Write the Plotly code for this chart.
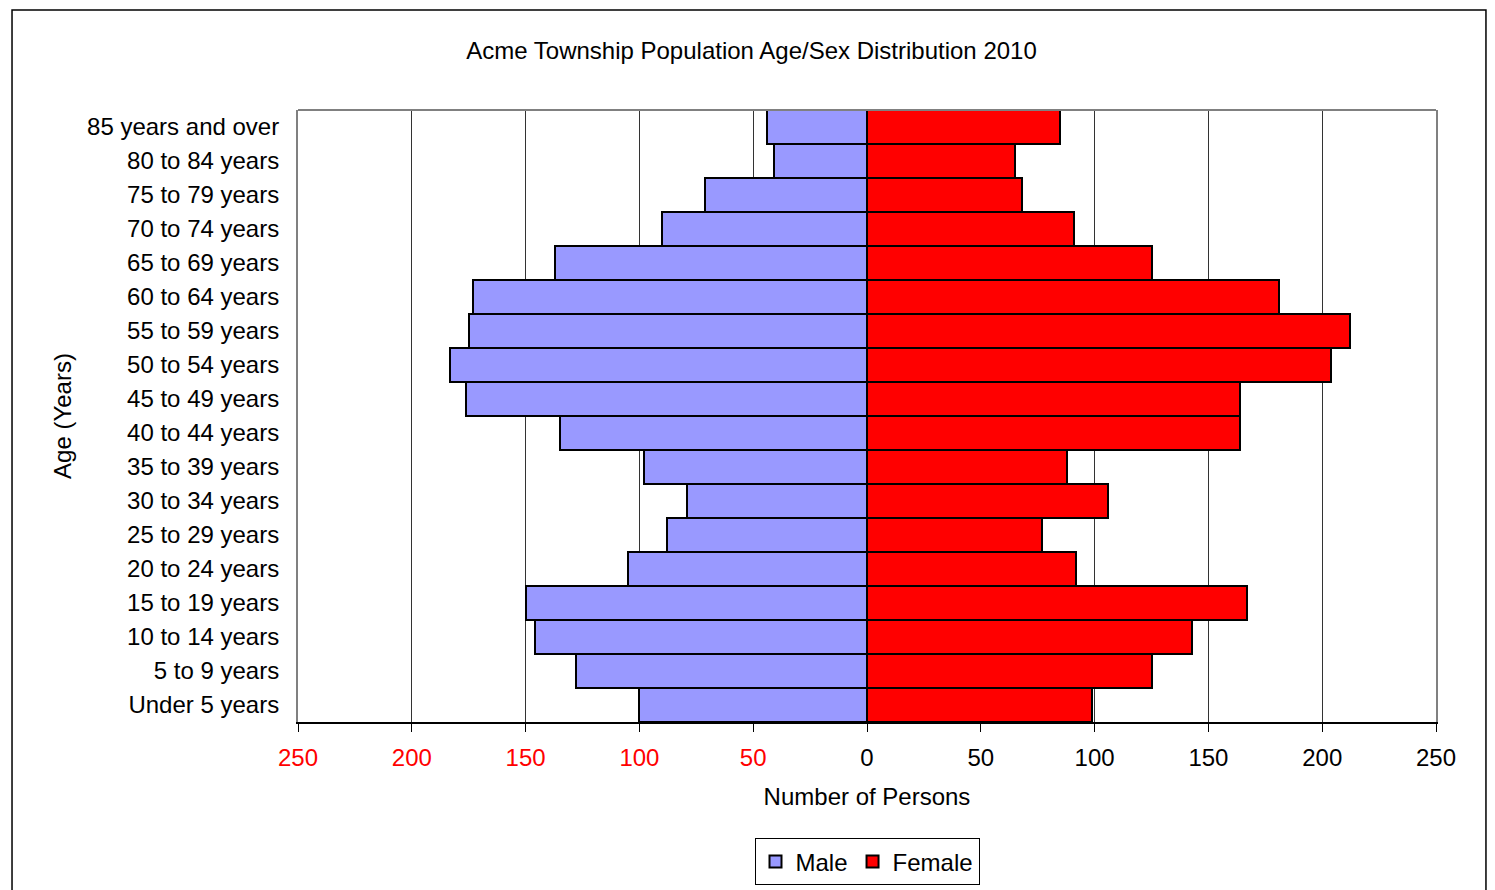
"""Population pyramid: Acme Township age/sex distribution 2010."""

import plotly.graph_objects as go

age_groups = [
    "Under 5 years", "5 to 9 years", "10 to 14 years", "15 to 19 years",
    "20 to 24 years", "25 to 29 years", "30 to 34 years", "35 to 39 years",
    "40 to 44 years", "45 to 49 years", "50 to 54 years", "55 to 59 years",
    "60 to 64 years", "65 to 69 years", "70 to 74 years", "75 to 79 years",
    "80 to 84 years", "85 years and over",
]
male = [100, 128, 146, 150, 105, 88, 79, 98, 135, 176, 183, 175, 173, 137, 90, 71, 41, 44]
female = [99, 125, 143, 167, 92, 77, 106, 88, 164, 164, 204, 212, 181, 125, 91, 68, 65, 85]

tick_vals = [-250, -200, -150, -100, -50, 0, 50, 100, 150, 200, 250]
tick_text = [
    f'<span style="color:#ff0000">{abs(v)}</span>' if v < 0 else str(v) for v in tick_vals
]

FONT = "Liberation Sans, Arial, sans-serif"

fig = go.Figure()
fig.add_bar(
    y=age_groups, x=[-v for v in male], orientation="h", name="Male",
    marker={"color": "#9999ff", "line": {"color": "#000000", "width": 2}},
    customdata=male, hovertemplate="%{y}: %{customdata}<extra>Male</extra>",
)
fig.add_bar(
    y=age_groups, x=female, orientation="h", name="Female",
    marker={"color": "#ff0000", "line": {"color": "#000000", "width": 2}},
    hovertemplate="%{y}: %{x}<extra>Female</extra>",
)

# outer chart frame (Excel-style chart border)
fig.add_shape(
    type="rect", xref="paper", yref="paper",
    x0=-0.2513, x1=1.0439, y0=-0.35, y1=1.1635,
    line={"color": "#000000", "width": 1.5}, layer="below",
)

# page body adds an 8px margin, so the figure is offset by that much
fig.update_layout(
    width=1487, height=882,
    barmode="relative", bargap=0,
    plot_bgcolor="white", paper_bgcolor="white",
    font={"family": FONT, "size": 24, "color": "#000000"},
    margin={"l": 290, "r": 59, "t": 102, "b": 168, "autoexpand": False},
    title={
        "text": "Acme Township Population Age/Sex Distribution 2010",
        "x": 0.5, "xanchor": "center", "y": 1 - 43 / 882, "yanchor": "middle",
        "font": {"size": 24},
    },
    xaxis={
        "range": [-250, 250], "tickvals": tick_vals, "ticktext": tick_text,
        "showgrid": True, "gridcolor": "#333333", "gridwidth": 1,
        "zeroline": False, "showline": True, "linecolor": "#000000", "linewidth": 2,
        "ticks": "outside", "ticklen": 8, "tickcolor": "#000000",
        "ticklabelstandoff": 5,
        "title": {"text": "Number of Persons", "standoff": 18, "font": {"size": 24}},
        "mirror": False,
    },
    yaxis={
        "showgrid": False, "zeroline": False, "ticks": "", "ticklabelstandoff": 12,
        "title": {"text": "Age (Years)", "standoff": 9, "font": {"size": 24}},
        "showline": True, "linecolor": "#808080", "linewidth": 2, "mirror": True,
    },
    legend={
        "orientation": "h", "x": 0.5, "xanchor": "center", "y": -0.19, "yanchor": "top",
        "bordercolor": "#000000", "borderwidth": 1, "traceorder": "normal",
        "font": {"size": 24}, "itemwidth": 30,
    },
    showlegend=True,
)

# gray top border of plot area
fig.add_shape(
    type="line", xref="paper", yref="paper", x0=0, x1=1, y0=1, y1=1,
    line={"color": "#808080", "width": 2},
)

fig.write_html("out.html")
